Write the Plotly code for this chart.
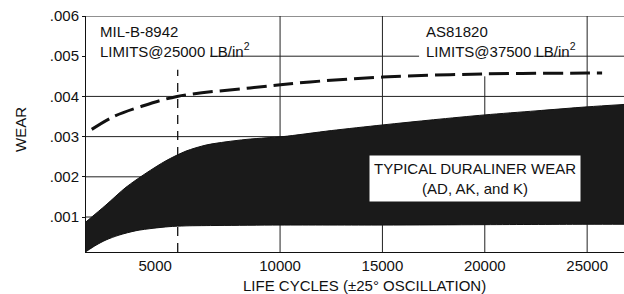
import plotly.graph_objects as go

# ---- data ----
band_hi_x = [520, 1497, 2474, 3452, 4429, 5406, 6383, 7360, 8337, 9315, 10145, 12500, 15000, 17500, 20000, 22500, 25000, 26800]
band_high = [0.00088, 0.00130, 0.00174, 0.00209, 0.00240, 0.00264, 0.00279, 0.00287, 0.00293, 0.00297, 0.00300, 0.00315, 0.00329, 0.00342, 0.00354, 0.00364, 0.00374, 0.00380]
band_lo_x = [520, 1009, 1497, 2132, 2963, 3794, 4575, 5406, 7018, 10000, 15000, 20000, 25000, 26800]
band_low = [0.00014, 0.00030, 0.00043, 0.00055, 0.00066, 0.00072, 0.00076, 0.00078, 0.00079, 0.00080, 0.00080, 0.00081, 0.00082, 0.00082]

limit_x = [800, 1840, 3160, 4970, 8535, 11466, 15000, 20000, 25000, 25730]
limit_y = [0.00318, 0.00349, 0.00374, 0.00400, 0.00421, 0.00436, 0.00448, 0.00456, 0.00458, 0.00458]

mil_limit_x = 5000
mil_limit_top = 0.00466

y_tick_vals = [0.001, 0.002, 0.003, 0.004, 0.005, 0.006]
y_tick_text = [".001", ".002", ".003", ".004", ".005", ".006"]
x_tick_vals = [3900, 10000, 15000, 20000, 25000]
x_tick_text = ["5000", "10000", "15000", "20000", "25000"]

# grid segments (value, start, end)
h_grid = [(0.001, 520, 26800), (0.002, 520, 26800), (0.003, 520, 26800), (0.004, 520, 26800),
          (0.005, 6580, 16790), (0.005, 22400, 26800), (0.006, 520, 26800)]
v_grid = [(10000, 0.00013, 0.006), (15000, 0.00013, 0.006), (20000, 0.00013, 0.00450), (25000, 0.00013, 0.006)]

x_range = [520, 26800]
y_range = [0.00013, 0.006]

FONT = "Liberation Sans, Arial, Helvetica, sans-serif"
FS = 15

fig = go.Figure()

fig.add_trace(go.Scatter(x=band_lo_x, y=band_low, mode="lines",
                         line=dict(color="#111", width=1, shape="spline", smoothing=0.8),
                         showlegend=False, hoverinfo="skip"))
fig.add_trace(go.Scatter(x=band_hi_x, y=band_high, mode="lines", fill="tonexty", fillcolor="#1a1a1a",
                         line=dict(color="#111", width=1, shape="spline", smoothing=0.8),
                         showlegend=False, hoverinfo="skip"))
fig.add_trace(go.Scatter(x=limit_x, y=limit_y, mode="lines",
                         line=dict(color="#111", width=3, dash="20px,7px", shape="spline"),
                         showlegend=False, hoverinfo="skip"))

shapes = []
for yv, x0, x1 in h_grid:
    shapes.append(dict(type="line", xref="x", yref="y", x0=x0, x1=x1, y0=yv, y1=yv,
                       line=dict(color="#222", width=1), layer="below"))
for xv, y0, y1 in v_grid:
    shapes.append(dict(type="line", xref="x", yref="y", x0=xv, x1=xv, y0=y0, y1=y1,
                       line=dict(color="#222", width=1), layer="below"))
shapes.append(dict(type="line", xref="x", yref="y", x0=mil_limit_x, x1=mil_limit_x, y0=y_range[0], y1=mil_limit_top,
                   line=dict(color="#111", width=1.3, dash="9px,7px"), layer="below"))
fig.update_layout(shapes=shapes)

ann_font = dict(family=FONT, size=FS, color="#111")
fig.add_annotation(x=1107, y=0.00588, xref="x", yref="y", xanchor="left", yanchor="top", align="left",
                   text="MIL-B-8942<br>LIMITS@25000 LB/in<sup>2</sup>", showarrow=False, font=ann_font)
fig.add_annotation(x=17036, y=0.00588, xref="x", yref="y", xanchor="left", yanchor="top", align="left",
                   text="AS81820<br>LIMITS@37500 LB/in<sup>2</sup>", showarrow=False, font=ann_font)
fig.add_annotation(x=19527, y=0.00195, xref="x", yref="y", xanchor="center", yanchor="middle", align="center",
                   text="TYPICAL DURALINER WEAR<br>(AD, AK, and K)", showarrow=False, font=ann_font,
                   bgcolor="white", borderpad=4)
fig.add_annotation(x=(364 - 86) / (624 - 86), y=(252 - 285) / (252 - 16), xref="paper", yref="paper",
                   xanchor="center", yanchor="middle",
                   text="LIFE CYCLES (±25° OSCILLATION)", showarrow=False, font=ann_font)
fig.add_annotation(x=(20 - 86) / (624 - 86), y=(252 - 130) / (252 - 16), xref="paper", yref="paper",
                   xanchor="center", yanchor="middle",
                   text="WEAR", textangle=-90, showarrow=False, font=ann_font)

fig.update_layout(
    width=624, height=294,
    margin=dict(l=86, r=0, t=16, b=42),
    paper_bgcolor="white", plot_bgcolor="white",
    font=dict(family=FONT, size=FS, color="#111"),
    xaxis=dict(range=x_range, showgrid=False, zeroline=False, showline=True, linecolor="#111", linewidth=1,
               tickvals=x_tick_vals, ticktext=x_tick_text, ticks="", tickfont=dict(size=FS), automargin=False),
    yaxis=dict(range=y_range, showgrid=False, zeroline=False, showline=True, linecolor="#111", linewidth=1,
               tickvals=y_tick_vals, ticktext=y_tick_text, ticks="outside", ticklen=3, tickcolor="#111",
               tickfont=dict(size=FS), automargin=False),
)

fig.write_html("out.html", config={"displayModeBar": False, "staticPlot": True},
               post_script="document.body.style.margin='0px';")
